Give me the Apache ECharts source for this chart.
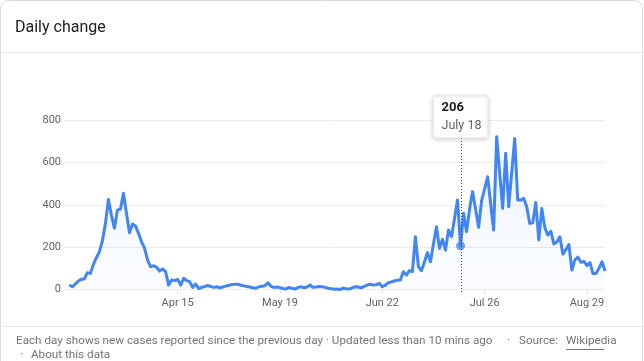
<!DOCTYPE html>
<html><head><meta charset="utf-8">
<script src="https://cdn.jsdelivr.net/npm/echarts@6/dist/echarts.min.js"></script>
<style>html,body{margin:0;padding:0;background:#fff;overflow:hidden}#c{width:644px;height:361px}</style>
</head><body><div id="c"></div>
<script>
// Daily new cases, one value per day starting Mar 10
const startDay = 'Mar 10';
const values = [
  21, 13, 25, 40, 48, 50, 79, 76, 118, 150,
  178, 230, 310, 425, 350, 289, 375, 380, 454, 360,
  268, 309, 300, 265, 225, 195, 140, 108, 112, 105,
  87, 97, 84, 21, 45, 42, 48, 21, 53, 42,
  37, 10, 26, 4, 10, 14, 20, 14, 10, 13,
  8, 12, 16, 20, 23, 25, 25, 20, 17, 14,
  12, 8, 6, 13, 15, 18, 32, 15, 10, 12,
  9, 5, 2, 10, 6, 2, 10, 13, 8, 12,
  21, 10, 12, 14, 13, 10, 6, 4, 1, 2,
  0, 6, 4, 2, 8, 13, 12, 8, 15, 21,
  25, 21, 22, 29, 13, 20, 32, 36, 40, 44,
  45, 84, 68, 89, 84, 249, 108, 89, 130, 174,
  131, 215, 296, 194, 237, 186, 281, 249, 335, 422,
  206, 360, 273, 380, 462, 380, 294, 420, 475, 532,
  406, 281, 721, 550, 383, 643, 391, 550, 713, 422,
  422, 430, 391, 312, 315, 411, 234, 382, 292, 257,
  275, 215, 224, 249, 167, 188, 212, 92, 140, 153,
  128, 133, 113, 127, 75, 75, 100, 131, 88
];
const tickDays = [36, 70, 104, 138, 172];
const tickLabels = ['Apr 15', 'May 19', 'Jun 22', 'Jul 26', 'Aug 29'];
const yTicks = [0, 200, 400, 600, 800];
const highlightDay = 130;
const highlightLabel = 'July 18';
const titleText = 'Daily change';
const footerMain = 'Each day shows new cases reported since the previous day \u00b7 Updated less than 10 mins ago';
const footerSource = 'Source:';
const footerLink = 'Wikipedia';
const footerAbout = 'About this data';

const seriesData = values.map((v, i) => [i, v]);
const labelFor = {};
tickDays.forEach((d, i) => { labelFor[d] = tickLabels[i]; });

const chart = echarts.init(document.getElementById('c'));
const FONT = 'Roboto';
const BLUE = '#4285f4';

const option = {
  animation: false,
  grid: { left: 64, right: 39, top: 120, bottom: 71.5 },
  xAxis: {
    type: 'value',
    min: -1.76,
    max: values.length - 1,
    splitLine: { show: false },
    axisLine: { show: false },
    axisTick: { show: true, customValues: tickDays, length: 4, lineStyle: { color: '#dadce0' } },
    axisLabel: {
      customValues: tickDays,
      formatter: v => labelFor[Math.round(v)] || '',
      fontFamily: FONT, fontSize: 11, color: '#5f6368', margin: 8
    }
  },
  yAxis: {
    type: 'value',
    min: yTicks[0], max: yTicks[yTicks.length - 1], interval: 200,
    axisLine: { show: false }, axisTick: { show: false },
    axisLabel: { fontFamily: FONT, fontSize: 11, color: '#5f6368', margin: 3 },
    splitLine: { lineStyle: { color: '#ececec', width: 1 } }
  },
  series: [
    {
      type: 'line',
      data: seriesData,
      showSymbol: false,
      lineStyle: { color: BLUE, width: 3, join: 'round' },
      areaStyle: {
        color: new echarts.graphic.LinearGradient(0, 0, 0, 1, [
          { offset: 0, color: 'rgba(66,133,244,0.13)' },
          { offset: 1, color: 'rgba(66,133,244,0.03)' }
        ])
      },
      z: 2
    },
    {
      type: 'scatter',
      data: [[highlightDay, values[highlightDay]]],
      symbolSize: 9,
      itemStyle: { color: BLUE },
      z: 5
    }
  ],
  graphic: [
    { type: 'rect', shape: { x: 0.5, y: 0.5, width: 642, height: 420, r: 8 },
      style: { fill: 'none', stroke: '#dadce0', lineWidth: 1 }, silent: true },
    { type: 'text', left: 15, top: 20,
      style: { text: titleText, font: '16px Roboto', fill: '#202124' } },
    { type: 'line', shape: { x1: 0, y1: 52.5, x2: 644, y2: 52.5 }, style: { stroke: '#e8e8e8', lineWidth: 1 } },
    { type: 'line', shape: { x1: 0, y1: 326.5, x2: 644, y2: 326.5 }, style: { stroke: '#e8e8e8', lineWidth: 1 } },
    { type: 'text', left: 16, top: 335,
      style: { text: footerMain, font: '11.7px Roboto', fill: '#70757a' } },
    { type: 'text', left: 507, top: 335,
      style: { text: '\u00b7', font: '12px Roboto', fill: '#70757a' } },
    { type: 'text', left: 519, top: 335,
      style: { text: footerSource, font: '11.7px Roboto', fill: '#70757a' } },
    { type: 'text', left: 566, top: 335,
      style: { text: footerLink, font: '11.7px Roboto', fill: '#70757a' } },
    { type: 'line', shape: { x1: 566, y1: 349.5, x2: 604, y2: 349.5 }, style: { stroke: '#70757a', lineWidth: 1 } },
    { type: 'text', left: 20, top: 349,
      style: { text: '\u00b7', font: '12px Roboto', fill: '#70757a' } },
    { type: 'text', left: 31, top: 349,
      style: { text: footerAbout, font: '11.7px Roboto', fill: '#70757a' } }
  ]
};
chart.setOption(option);

// Tooltip-like callout anchored at the highlighted data point
const p = chart.convertToPixel({ gridIndex: 0 }, [highlightDay, values[highlightDay]]);
const p0 = chart.convertToPixel({ gridIndex: 0 }, [highlightDay, 0]);
const boxW = 55, boxH = 42, boxTop = 96;
const boxLeft = p[0] - 27.5;
chart.setOption({
  graphic: option.graphic.concat([
    { type: 'line', z: 10,
      shape: { x1: Math.round(p[0]) + 0.5, y1: boxTop + boxH, x2: Math.round(p[0]) + 0.5, y2: p0[1] + 4 },
      style: { stroke: '#444', lineWidth: 1, lineDash: [1, 2] } },
    { type: 'rect', z: 20,
      shape: { x: boxLeft, y: boxTop, width: boxW, height: boxH, r: 2 },
      style: { fill: '#fff', stroke: '#e6e6e6', lineWidth: 1,
               shadowBlur: 5, shadowColor: 'rgba(0,0,0,0.18)', shadowOffsetY: 1 } },
    { type: 'text', z: 21, x: boxLeft + 8.5, y: boxTop + 5,
      style: { text: String(values[highlightDay]), font: 'bold 13px Roboto', fill: '#202124' } },
    { type: 'text', z: 21, x: boxLeft + 8.5, y: boxTop + 23,
      style: { text: highlightLabel, font: '12.5px Roboto', fill: '#5f6368' } }
  ])
});
</script>
</body></html>
